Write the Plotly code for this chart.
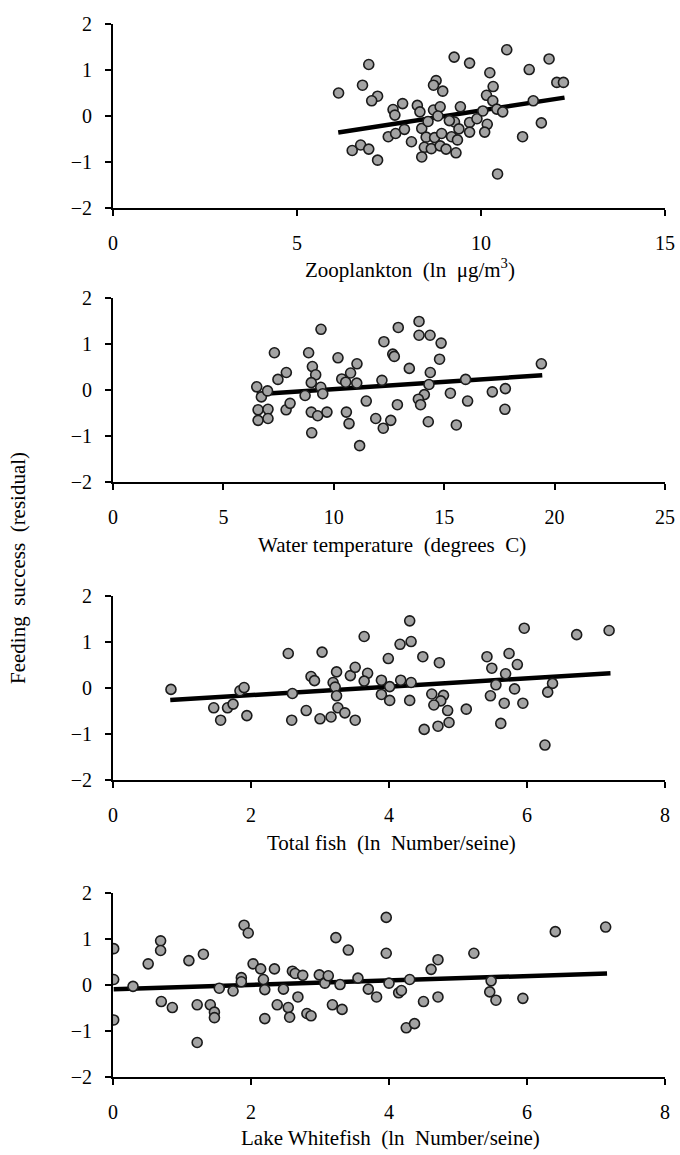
import plotly.graph_objects as go

# ---------------- data ----------------
zoo_x = [6.13, 6.95, 6.78, 7.19, 7.03, 6.50, 6.73, 6.95, 7.19, 7.61, 7.66, 7.87, 7.48, 7.68,
         7.92, 8.11, 8.27, 8.34, 8.39, 8.51, 8.46, 8.39, 8.65, 8.74, 8.71, 8.78, 8.71, 8.96,
         8.89, 8.83, 8.93, 8.89, 9.05, 9.27, 9.69, 9.44, 9.28, 9.40, 9.20, 9.36, 9.32, 9.69,
         9.69, 9.89, 10.05, 10.15, 10.24, 10.33, 10.32, 10.43, 10.59, 10.17, 10.10, 10.45,
         10.70, 11.31, 11.42, 11.64, 11.13, 11.85, 12.06, 12.24, 8.56, 9.14]
zoo_y = [0.50, 1.12, 0.67, 0.43, 0.33, -0.75, -0.63, -0.72, -0.96, 0.14, 0.02, 0.27, -0.45, -0.38,
         -0.29, -0.56, 0.23, 0.09, -0.27, -0.46, -0.68, -0.89, -0.71, -0.47, 0.13, 0.77, 0.67, 0.54,
         0.20, 0.00, -0.38, -0.65, -0.72, 1.28, 1.15, 0.20, -0.13, -0.28, -0.45, -0.52, -0.80, -0.14,
         -0.35, -0.06, 0.11, 0.45, 0.94, 0.64, 0.33, 0.15, 0.09, -0.18, -0.35, -1.26,
         1.44, 1.01, 0.33, -0.15, -0.45, 1.24, 0.73, 0.73, -0.12, -0.10]
zoo_fit_x = [6.12, 12.27]
zoo_fit_y = [-0.36, 0.40]

temp_x = [6.51, 6.72, 7.00, 6.57, 7.02, 6.57, 7.02, 7.31, 7.47, 7.85, 7.84, 8.02, 8.70, 8.86,
          9.03, 9.18, 8.98, 9.41, 9.50, 8.98, 9.27, 9.69, 9.00, 9.42, 10.19, 10.36, 10.54, 10.76,
          11.05, 11.04, 10.57, 10.69, 11.17, 11.47, 11.90, 12.18, 12.27, 12.24, 12.58, 12.88,
          12.67, 12.74, 12.92, 13.42, 13.86, 13.86, 14.36, 14.86, 14.79, 14.37, 14.31, 14.10,
          13.83, 13.93, 14.28, 15.28, 15.55, 15.97, 16.06, 17.18, 17.77, 17.75, 19.40]
temp_y = [0.07, -0.15, -0.02, -0.43, -0.42, -0.66, -0.62, 0.81, 0.23, 0.38, -0.43, -0.29, -0.12, 0.81,
          0.51, 0.33, 0.16, 0.06, -0.08, -0.48, -0.56, -0.48, -0.93, 1.32, 0.70, 0.24, 0.17, 0.37,
          0.57, 0.15, -0.48, -0.73, -1.21, -0.24, -0.62, 0.21, 1.05, -0.83, -0.66, -0.32,
          0.78, 0.73, 1.36, 0.47, 1.49, 1.19, 1.19, 1.02, 0.67, 0.38, 0.12, -0.10,
          -0.20, -0.32, -0.69, -0.07, -0.76, 0.23, -0.24, -0.04, 0.03, -0.42, 0.57]
temp_fit_x = [6.51, 19.44]
temp_fit_y = [-0.09, 0.32]

fish_x = [0.84, 1.46, 1.56, 1.66, 1.74, 1.84, 1.90, 1.94, 2.54, 2.60, 2.59, 2.80, 2.87, 2.92,
          3.03, 3.00, 3.16, 3.19, 3.24, 3.22, 3.24, 3.26, 3.36, 3.44, 3.51, 3.64, 3.69, 3.64,
          3.51, 3.89, 4.01, 3.89, 4.01, 3.99, 4.16, 4.30, 4.32, 4.17, 4.32, 4.30, 4.49, 4.73,
          4.62, 4.79, 4.75, 4.65, 4.85, 4.87, 4.71, 4.51, 5.12, 5.42, 5.49, 5.74, 5.86, 5.69,
          5.55, 5.47, 5.82, 5.67, 5.94, 5.62, 5.96, 6.37, 6.30, 6.26, 6.72, 7.19]
fish_y = [-0.03, -0.43, -0.70, -0.43, -0.35, -0.06, 0.01, -0.60, 0.75, -0.12, -0.70, -0.49, 0.25, 0.16,
          0.78, -0.67, -0.63, 0.12, 0.35, 0.02, -0.17, -0.43, -0.54, 0.27, 0.45, 1.12, 0.32, 0.15,
          -0.70, 0.17, 0.03, -0.14, -0.27, 0.64, 0.95, 1.46, 1.01, 0.17, 0.12, -0.27, 0.68, 0.55,
          -0.13, -0.16, -0.28, -0.37, -0.49, -0.75, -0.83, -0.90, -0.46, 0.68, 0.43, 0.75, 0.51, 0.31,
          0.07, -0.17, -0.02, -0.33, -0.33, -0.77, 1.30, 0.10, -0.09, -1.24, 1.16, 1.25]
fish_fit_x = [0.83, 7.21]
fish_fit_y = [-0.26, 0.32]

white_x = [0.01, 0.01, 0.01, 0.29, 0.51, 0.69, 0.69, 0.70, 0.86, 1.10, 1.31, 1.22, 1.22, 1.41,
           1.47, 1.47, 1.54, 1.74, 1.86, 1.86, 1.90, 1.96, 2.03, 2.14, 2.18, 2.20, 2.20, 2.34,
           2.38, 2.47, 2.54, 2.56, 2.60, 2.64, 2.68, 2.75, 2.81, 2.87, 2.99, 3.07, 3.12, 3.18,
           3.29, 3.23, 3.32, 3.41, 3.55, 3.70, 3.82, 3.96, 3.96, 4.00, 4.14, 4.18, 4.25, 4.37,
           4.30, 4.50, 4.61, 4.71, 4.71, 5.23, 5.48, 5.46, 5.55, 5.94, 6.41, 7.14]
white_y = [0.79, 0.12, -0.76, -0.03, 0.46, 0.96, 0.75, -0.36, -0.49, 0.53, 0.67, -0.43, -1.25, -0.43,
           -0.59, -0.71, -0.07, -0.13, 0.16, 0.07, 1.30, 1.13, 0.46, 0.35, 0.12, -0.10, -0.73, 0.35,
           -0.43, -0.09, -0.49, -0.70, 0.30, 0.25, -0.26, 0.21, -0.62, -0.67, 0.22, 0.04, 0.20, -0.43,
           0.01, 1.03, -0.53, 0.76, 0.15, -0.09, -0.26, 1.47, 0.69, 0.04, -0.17, -0.12, -0.93, -0.84,
           0.12, -0.36, 0.34, 0.55, -0.26, 0.69, 0.09, -0.15, -0.33, -0.29, 1.16, 1.26]
white_fit_x = [0.01, 7.16]
white_fit_y = [-0.09, 0.25]

y_ticks = [-2, -1, 0, 1, 2]
x_titles = ["Zooplankton\u00a0 (ln\u00a0 \u03bcg/m<sup>3</sup>)",
            "Water temperature\u00a0 (degrees\u00a0 C)",
            "Total fish\u00a0 (ln\u00a0 Number/seine)",
            "Lake Whitefish\u00a0 (ln\u00a0 Number/seine)"]
x_ranges = [[0, 15], [0, 25], [0, 8], [0, 8]]
x_dticks = [5, 5, 2, 2]
y_label = "Feeding\u00a0 success\u00a0 (residual)"

# ---------------- layout helpers ----------------
W, H = 680, 1155
FONT = "'Liberation Serif', 'Times New Roman', Times, serif"
panel_px = [(24, 208), (298, 482), (596, 780), (893, 1077)]  # top, bottom
title_px = [(410, 268), (392, 545), (392, 843), (390, 1138)]
x_left, x_right = 113, 665

series = [(zoo_x, zoo_y, zoo_fit_x, zoo_fit_y),
          (temp_x, temp_y, temp_fit_x, temp_fit_y),
          (fish_x, fish_y, fish_fit_x, fish_fit_y),
          (white_x, white_y, white_fit_x, white_fit_y)]

fig = go.Figure()
layout = dict(template="none", width=W, height=H, margin=dict(l=0, r=0, t=0, b=0, pad=0),
              paper_bgcolor="white", plot_bgcolor="white", showlegend=False,
              font=dict(family=FONT, size=20, color="black"))
annotations = []

for i, (sx, sy, fx, fy) in enumerate(series):
    k = i + 1
    xa = "x" if k == 1 else f"x{k}"
    ya = "y" if k == 1 else f"y{k}"
    fig.add_trace(go.Scatter(x=fx, y=fy, mode="lines", xaxis=xa, yaxis=ya,
                             line=dict(color="black", width=4.5), hoverinfo="skip"))
    fig.add_trace(go.Scatter(x=sx, y=sy, mode="markers", xaxis=xa, yaxis=ya,
                             marker=dict(size=10, color="#a3a3a3",
                                         line=dict(color="#1a1a1a", width=1.6))))
    top, bot = panel_px[i]
    axis_common = dict(showline=True, linecolor="black", linewidth=2, ticks="outside",
                       ticklen=6, tickwidth=2, tickcolor="black", showgrid=False,
                       zeroline=False, automargin=False,
                       tickfont=dict(family=FONT, size=20, color="black"))
    layout[f"xaxis{k}" if k > 1 else "xaxis"] = dict(
        domain=[x_left / W, x_right / W], range=x_ranges[i], dtick=x_dticks[i], tick0=0,
        anchor=ya, ticklabelstandoff=10, **axis_common)
    layout[f"yaxis{k}" if k > 1 else "yaxis"] = dict(
        domain=[1 - bot / H, 1 - top / H], range=[-2, 2], tickvals=y_ticks,
        anchor=xa, ticklabelstandoff=9, **axis_common)
    tx, ty = title_px[i]
    annotations.append(dict(text=x_titles[i], x=tx / W, y=1 - ty / H, xref="paper", yref="paper",
                            showarrow=False, xanchor="center", yanchor="middle",
                            font=dict(family=FONT, size=21, color="black")))

annotations.append(dict(text=y_label, x=18 / W, y=1 - 568 / H, xref="paper", yref="paper",
                        showarrow=False, textangle=-90, xanchor="center", yanchor="middle",
                        font=dict(family=FONT, size=21, color="black")))
layout["annotations"] = annotations
fig.update_layout(**layout)
fig.write_html("out.html", config={"displayModeBar": False},
               post_script="document.body.style.margin='0px';document.body.style.overflow='hidden';")
